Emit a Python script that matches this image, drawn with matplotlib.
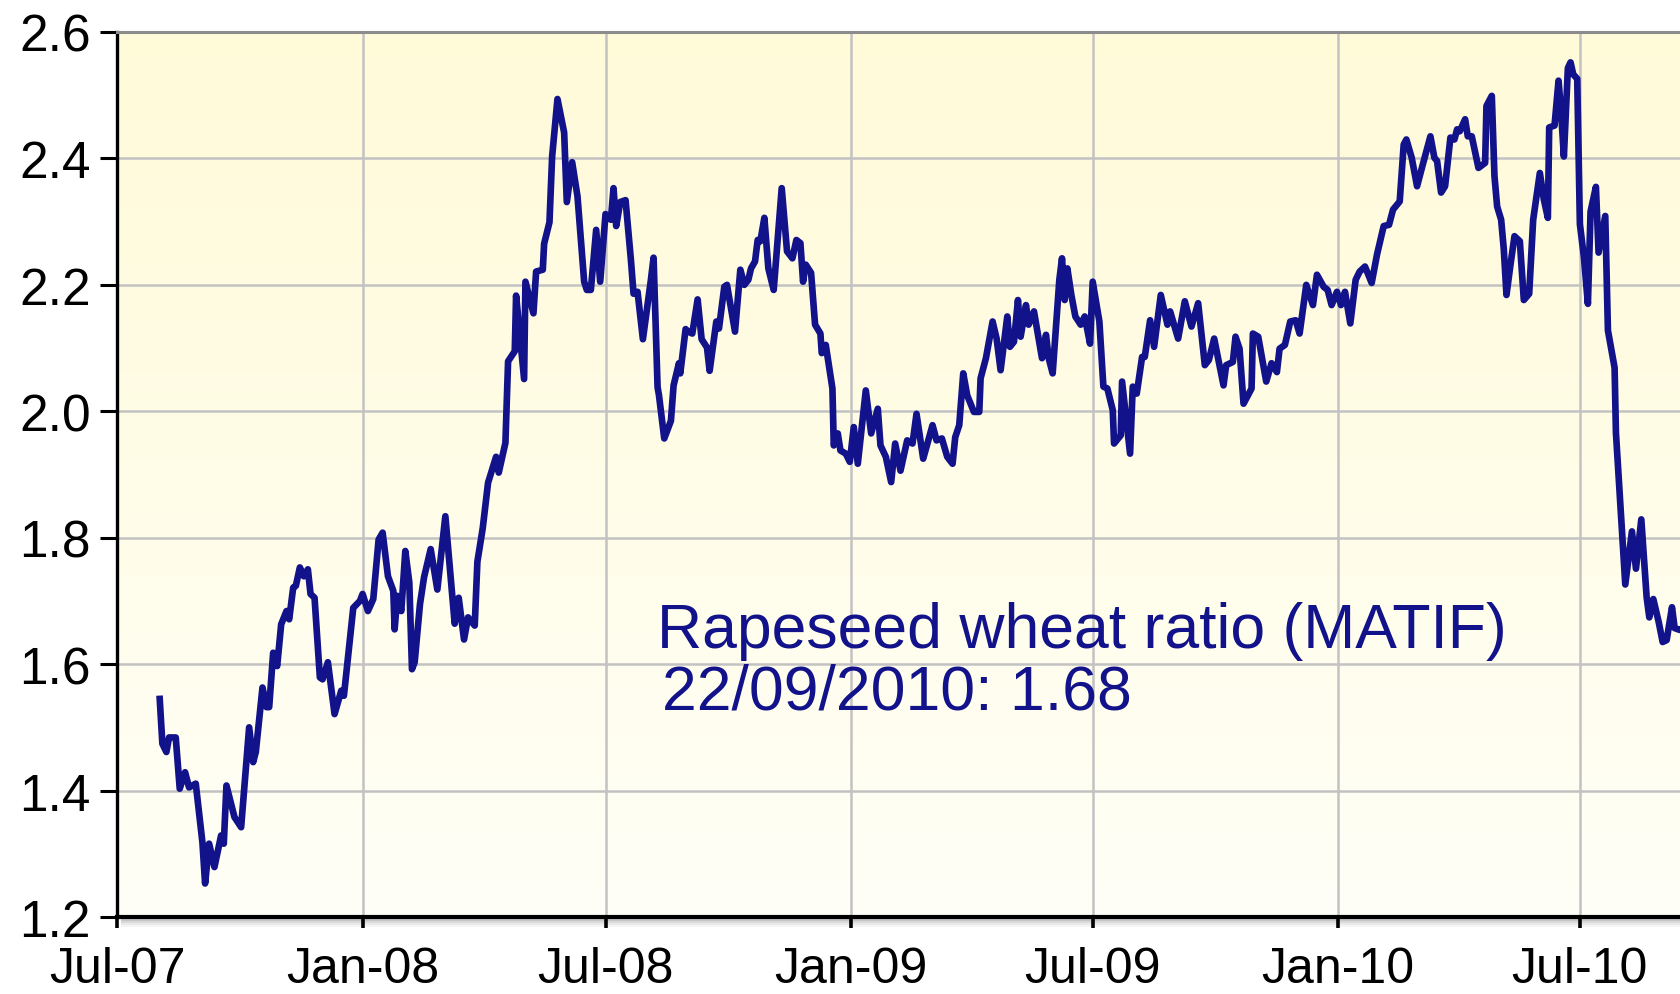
import matplotlib
matplotlib.use("Agg")
import matplotlib.pyplot as plt
import matplotlib.dates as mdates
from matplotlib.lines import Line2D
import numpy as np
import pandas as pd

plt.rcParams['font.family'] = ['Liberation Sans', 'DejaVu Sans']

# rapeseed / wheat price ratio (MATIF)
# x = days after 1 Jul 2007
start = pd.Timestamp('2007-07-01')
days = [
    32, 34, 37, 39, 44, 47, 51, 54, 59, 64, 66, 69, 73, 78, 80, 82, 88, 93, 99, 102,
    104, 109, 112, 114, 117, 120, 123, 127, 129, 132, 134, 137, 140, 143, 145, 148, 152, 154, 158, 163,
    168, 170, 177, 182, 184, 188, 192, 196, 199, 203, 207, 208, 210, 213, 216, 219, 221, 223, 227, 230,
    235, 240, 246, 253, 256, 260, 263, 268, 270, 274, 278, 284, 286, 291, 293, 298, 299, 305, 306, 312,
    314, 319, 320, 324, 326, 330, 335, 337, 341, 345, 350, 352, 355, 359, 362, 366, 370, 372, 374, 377,
    381, 385, 387, 390, 394, 400, 402, 405, 406, 410, 415, 417, 421, 422, 426, 428, 431, 435, 438, 442,
    444, 449, 451, 455, 457, 463, 467, 470, 473, 475, 478, 480, 482, 485, 488, 492, 498, 502, 506, 509,
    512, 514, 516, 520, 523, 527, 528, 531, 536, 537, 540, 542, 546, 549, 552, 555, 561, 565, 570, 572,
    576, 580, 583, 587, 592, 596, 599, 604, 611, 614, 618, 622, 626, 628, 631, 634, 637, 642, 646, 647,
    651, 656, 659, 662, 667, 669, 672, 675, 677, 681, 683, 687, 693, 696, 698, 701, 706, 708, 710, 712,
    715, 718, 722, 725, 729, 731, 736, 739, 742, 746, 747, 752, 753, 759, 761, 764, 768, 770, 774, 777,
    782, 787, 789, 795, 800, 805, 810, 815, 818, 822, 829, 831, 836, 838, 841, 844, 850, 851, 855, 861,
    865, 869, 871, 875, 879, 883, 886, 891, 896, 899, 904, 907, 910, 914, 917, 920, 924, 928, 931, 935,
    940, 944, 949, 953, 956, 961, 964, 966, 970, 974, 978, 984, 987, 989, 992, 995, 999, 1002, 1004, 1006,
    1010, 1012, 1015, 1020, 1025, 1026, 1030, 1032, 1034, 1037, 1039, 1041, 1044, 1047, 1051, 1054, 1058, 1061, 1066, 1069,
    1072, 1073, 1077, 1080, 1082, 1084, 1087, 1089, 1091, 1094, 1096, 1099, 1102, 1104, 1108, 1110, 1115, 1117, 1122, 1123,
    1130, 1135, 1138, 1142, 1146, 1148, 1151, 1155, 1158, 1161, 1165, 1167, 1171, 1175, 1179,
]
ratio = [
    1.545, 1.474, 1.461, 1.484, 1.484, 1.403, 1.429, 1.405, 1.411, 1.318, 1.253, 1.316, 1.279, 1.329, 1.316, 1.408, 1.358, 1.342, 1.500, 1.445,
    1.461, 1.563, 1.532, 1.532, 1.618, 1.597, 1.663, 1.684, 1.671, 1.721, 1.724, 1.753, 1.739, 1.750, 1.711, 1.705, 1.579, 1.576, 1.603, 1.521,
    1.558, 1.550, 1.689, 1.700, 1.711, 1.684, 1.703, 1.797, 1.808, 1.739, 1.716, 1.655, 1.708, 1.684, 1.779, 1.729, 1.592, 1.603, 1.695, 1.737,
    1.782, 1.718, 1.834, 1.664, 1.705, 1.639, 1.674, 1.661, 1.762, 1.815, 1.887, 1.928, 1.903, 1.950, 2.079, 2.095, 2.183, 2.051, 2.205, 2.155,
    2.221, 2.224, 2.265, 2.299, 2.403, 2.494, 2.441, 2.331, 2.394, 2.340, 2.205, 2.192, 2.192, 2.287, 2.205, 2.312, 2.303, 2.353, 2.293, 2.331,
    2.334, 2.240, 2.186, 2.189, 2.114, 2.208, 2.243, 2.038, 2.026, 1.957, 1.985, 2.041, 2.076, 2.060, 2.130, 2.126, 2.123, 2.177, 2.114, 2.101,
    2.064, 2.142, 2.131, 2.197, 2.200, 2.126, 2.224, 2.200, 2.208, 2.226, 2.237, 2.271, 2.269, 2.306, 2.226, 2.192, 2.353, 2.253, 2.242, 2.271,
    2.266, 2.205, 2.232, 2.219, 2.137, 2.123, 2.092, 2.105, 2.036, 1.946, 1.965, 1.938, 1.933, 1.920, 1.975, 1.917, 2.033, 1.965, 2.004, 1.946,
    1.928, 1.888, 1.949, 1.906, 1.954, 1.949, 1.996, 1.925, 1.978, 1.954, 1.957, 1.928, 1.917, 1.959, 1.978, 2.060, 2.025, 1.999, 1.999, 2.052,
    2.084, 2.142, 2.115, 2.065, 2.150, 2.102, 2.110, 2.176, 2.118, 2.168, 2.137, 2.158, 2.084, 2.121, 2.084, 2.060, 2.208, 2.242, 2.176, 2.226,
    2.184, 2.150, 2.137, 2.150, 2.107, 2.205, 2.142, 2.039, 2.036, 2.002, 1.949, 1.962, 2.047, 1.933, 2.039, 2.028, 2.086, 2.086, 2.144, 2.102,
    2.184, 2.137, 2.158, 2.115, 2.174, 2.134, 2.171, 2.073, 2.081, 2.115, 2.041, 2.073, 2.078, 2.118, 2.099, 2.012, 2.036, 2.123, 2.118, 2.047,
    2.076, 2.062, 2.099, 2.105, 2.142, 2.144, 2.123, 2.200, 2.168, 2.216, 2.197, 2.192, 2.168, 2.189, 2.168, 2.189, 2.139, 2.208, 2.221, 2.229,
    2.203, 2.248, 2.293, 2.295, 2.319, 2.332, 2.422, 2.430, 2.401, 2.356, 2.388, 2.435, 2.401, 2.396, 2.346, 2.356, 2.433, 2.430, 2.446, 2.443,
    2.462, 2.435, 2.435, 2.385, 2.393, 2.483, 2.499, 2.372, 2.324, 2.303, 2.256, 2.184, 2.232, 2.277, 2.269, 2.176, 2.186, 2.303, 2.377, 2.335,
    2.306, 2.449, 2.452, 2.523, 2.471, 2.403, 2.543, 2.552, 2.533, 2.526, 2.296, 2.244, 2.170, 2.316, 2.355, 2.251, 2.309, 2.128, 2.069, 1.966,
    1.726, 1.810, 1.751, 1.829, 1.706, 1.674, 1.703, 1.667, 1.635, 1.638, 1.690, 1.657, 1.654, 1.660, 1.680,
]
label_line1 = "Rapeseed wheat ratio (MATIF)"
label_line2 = "22/09/2010: 1.68"
y_ticks = [1.2, 1.4, 1.6, 1.8, 2.0, 2.2, 2.4, 2.6]

dates = start + pd.to_timedelta(days, unit="D")
navy = "#12128a"

fig = plt.figure(figsize=(16.8, 9.95), dpi=100)
pos = [117 / 1680, 77 / 995, 1563 / 1680, 885 / 995]

# yellow-to-white background gradient behind the plot
bg = fig.add_axes(pos, zorder=0)
grad = np.linspace(0, 1, 256).reshape(-1, 1)
top_c = np.array([255, 250, 216]) / 255
bot_c = np.array([255, 255, 247]) / 255
img = top_c[None, None, :] * (1 - grad[:, :, None]) + bot_c[None, None, :] * grad[:, :, None]
bg.imshow(img, aspect="auto", extent=[0, 1, 0, 1])
bg.axis("off")

# faint drop shadow under the x axis
for i, a in enumerate([0.22, 0.14, 0.08, 0.04]):
    y = (77 - 3 - 2 * i) / 995
    fig.add_artist(Line2D([122 / 1680, 1], [y, y], transform=fig.transFigure,
                          color="black", alpha=a, lw=1.5))

ax = fig.add_axes(pos, zorder=1)
ax.set_facecolor("none")
ax.plot(dates, ratio, color=navy, lw=4.8, solid_joinstyle="round", zorder=3)

ax.set_xlim(start, start + pd.Timedelta(days=1171))
ax.set_ylim(1.2, 2.6)
ax.set_yticks(y_ticks)
ax.yaxis.set_major_formatter(matplotlib.ticker.FormatStrFormatter("%.1f"))
ax.xaxis.set_major_locator(mdates.MonthLocator(bymonth=[1, 7]))
ax.xaxis.set_major_formatter(mdates.DateFormatter("%b-%y"))

ax.grid(True, color="#c2c2c2", lw=1.8)
ax.set_axisbelow(True)
ax.spines["right"].set_visible(False)
ax.spines["top"].set_color("#8c8c8c")
ax.spines["top"].set_linewidth(2.2)
ax.spines["left"].set_linewidth(2.4)
ax.spines["bottom"].set_linewidth(3.0)

ax.tick_params(axis="y", length=12, width=2.2, pad=7, labelsize=37)
ax.tick_params(axis="x", length=8, width=2.6, pad=13, labelsize=36)

ax.text(0.3455, 0.305, label_line1, transform=ax.transAxes, color=navy,
        fontsize=45, va="baseline", ha="left")
ax.text(0.3487, 0.236, label_line2, transform=ax.transAxes, color=navy,
        fontsize=45, va="baseline", ha="left")

plt.savefig("out.png", dpi=100)
